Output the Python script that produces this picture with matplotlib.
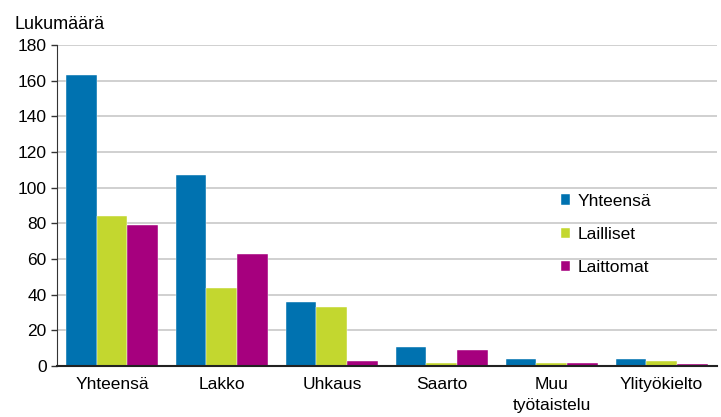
import numpy as np
import matplotlib.pyplot as plt

plt.rcParams['font.family'] = ['Liberation Sans', 'DejaVu Sans']

categories = ['Yhteensä', 'Lakko', 'Uhkaus', 'Saarto', 'Muu\ntyötaistelu', 'Ylityökielto']
yhteensa = [163, 107, 36, 11, 4, 4]
lailliset = [84, 44, 33, 2, 2, 3]
laittomat = [79, 63, 3, 9, 2, 1]
series_names = ['Yhteensä', 'Lailliset', 'Laittomat']
colors = ['#0072B0', '#C3D72F', '#A6007E']

fig = plt.figure(figsize=(7.21, 4.17), dpi=100)
ax = fig.add_axes([0.079, 0.122, 0.915, 0.77])

x = np.arange(len(categories))
w = 0.28
for i, (vals, name, c) in enumerate(zip([yhteensa, lailliset, laittomat], series_names, colors)):
    ax.bar(x + (i - 1) * w, vals, w, color=c, label=name, zorder=3,
           edgecolor='white', linewidth=0.3)

ax.set_xlim(-0.5, len(categories) - 0.5)
ax.set_ylim(0, 180)
ax.set_yticks(range(0, 181, 20))
ax.set_xticks(x)
ax.set_xticklabels(categories, fontsize=12.5, linespacing=1.45)
ax.tick_params(axis='x', length=0, pad=8)
ax.tick_params(axis='y', labelsize=12.5, length=4, direction='out', width=1, color='#333333')
ax.grid(axis='y', color='#c8c8c8', linewidth=1.2, zorder=0)
for s in ['top', 'right']:
    ax.spines[s].set_visible(False)
ax.spines['left'].set_color('#333333')
ax.spines['bottom'].set_color('#222222')
ax.spines['bottom'].set_linewidth(1.5)
ax.spines['bottom'].set_zorder(5)
ax.spines['left'].set_zorder(5)

fig.text(0.02, 0.93, 'Lukumäärä', fontsize=13)

leg = ax.legend(loc='center left', bbox_to_anchor=(0.74, 0.41), frameon=False, fontsize=12.5,
                handlelength=0.55, handleheight=0.55, handletextpad=0.4, labelspacing=1.05)

fig.savefig('out.png', dpi=100)
